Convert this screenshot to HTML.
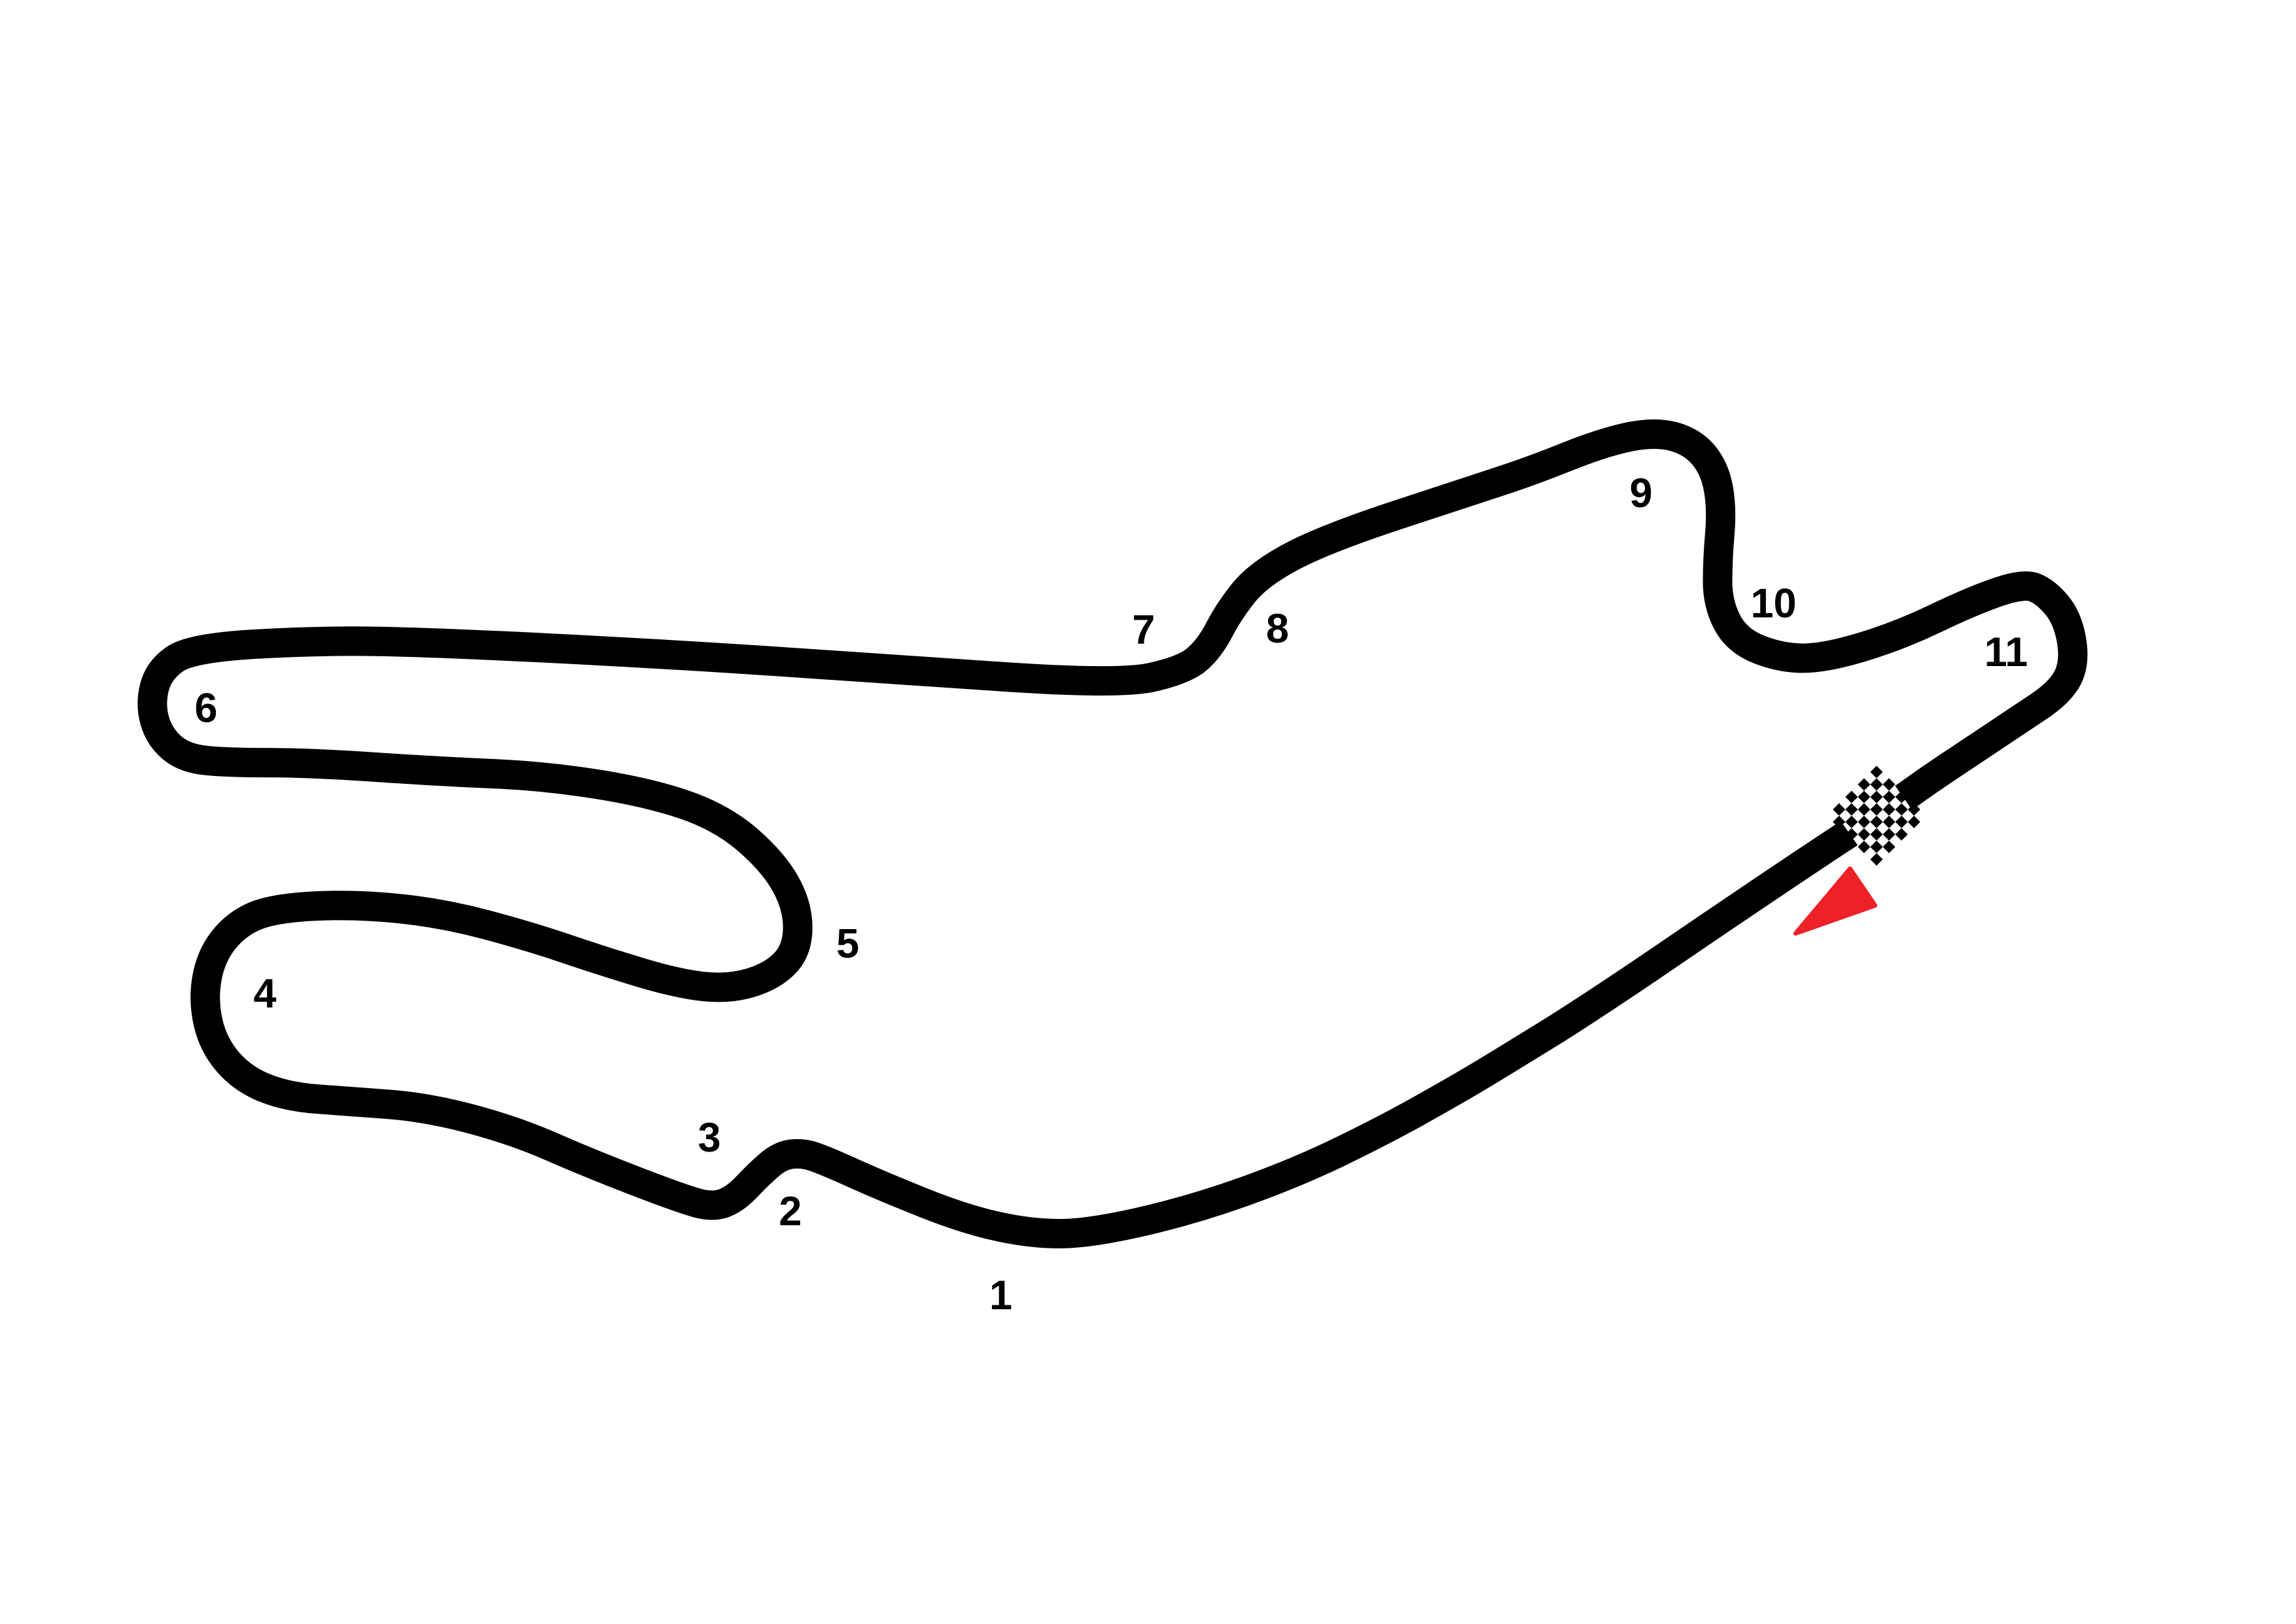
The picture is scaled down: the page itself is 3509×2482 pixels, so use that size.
<!DOCTYPE html>
<html><head><meta charset="utf-8"><style>
html,body{margin:0;padding:0;background:#fff;width:3509px;height:2482px;overflow:hidden}
svg{display:block}
text{font-family:"Liberation Sans",sans-serif;font-weight:bold;font-size:28px;fill:#000;text-anchor:middle;dominant-baseline:central}
</style></head><body>
<svg width="3509" height="2482" viewBox="0 0 1560 1103" xmlns="http://www.w3.org/2000/svg">
<rect width="1560" height="1103" fill="#fff"/>
<path fill="none" stroke="#000" stroke-width="20" stroke-linejoin="round" stroke-linecap="round"
d="M1273.5,555
Q1262,562 1226,586 Q1190,610 1135,647.5 Q1080,685 1050,703.5 Q1020,722 1005,731 Q990,740 965,754 Q940,768 910,782.5 Q880,797 845,809.5 Q810,822 775,830 Q740,838 720,838 Q700,838 677.5,833 Q655,828 627.5,817 Q600,806 580,797 Q560,788 552.5,785.5 Q545,783 537.5,784 Q530,785 522.5,791.5 Q515,798 507.5,806 Q500,814 492.5,817 Q485,820 475,817.5 Q465,815 432.5,802.5 Q400,790 375,779 Q350,768 320,760 Q290,752 262.5,750 Q235,748 215,746.5 Q195,745 180,739 Q165,733 155,721.5 Q145,710 141.5,695 Q138,680 140.5,665 Q143,650 151.5,639 Q160,628 172.5,622.5 Q185,617 212.5,615.5 Q240,614 270,617 Q300,620 330,628 Q360,636 385,644.5 Q410,653 435,660.5 Q460,668 477.5,670 Q495,672 510,667.5 Q525,663 533.5,654 Q542,645 542,630 Q542,615 533.5,600 Q525,585 507.5,570 Q490,555 465,546.5 Q440,538 405,532.5 Q370,527 335,525.5 Q300,524 255,521 Q210,518 182.5,518 Q155,518 140,516.5 Q125,515 116.5,507.5 Q108,500 105,489 Q102,478 105,466.5 Q108,455 119,447.5 Q130,440 172.5,437.5 Q215,435 252.5,435.5 Q290,436 370,440 Q450,444 525,449 Q600,454 680,459.5 Q760,465 782.5,460 Q805,455 813.5,447.5 Q822,440 828.5,427.5 Q835,415 845,402.5 Q855,390 877.5,378 Q900,366 950,349.5 Q1000,333 1020,326.5 Q1040,320 1065,310 Q1090,300 1107.5,296.5 Q1125,293 1137.5,296.5 Q1150,300 1157.5,309 Q1165,318 1167.5,331.5 Q1170,345 1168.5,362.5 Q1167,380 1167,395 Q1167,410 1173.5,422.5 Q1180,435 1195,441 Q1210,447 1225,447 Q1240,447 1265,439.5 Q1290,432 1315,420 Q1340,408 1357.5,402 Q1375,396 1382.5,399 Q1390,402 1397.5,411 Q1405,420 1407.5,435 Q1410,450 1405,460 Q1400,470 1385,480 Q1370,490 1355,500 Q1340,510 1325,520 Q1310,530 1297.5,539 Q1285,548 1273.5,555 Z"/>
<g transform="translate(1275,554) rotate(-35)">
<rect x="-22" y="-26" width="44" height="52" fill="#fff"/>
<g fill="#000" transform="rotate(80)">
<rect x="-24" y="-24" width="6" height="6"/><rect x="-12" y="-24" width="6" height="6"/><rect x="0" y="-24" width="6" height="6"/><rect x="12" y="-24" width="6" height="6"/>
<rect x="-18" y="-18" width="6" height="6"/><rect x="-6" y="-18" width="6" height="6"/><rect x="6" y="-18" width="6" height="6"/><rect x="18" y="-18" width="6" height="6"/>
<rect x="-24" y="-12" width="6" height="6"/><rect x="-12" y="-12" width="6" height="6"/><rect x="0" y="-12" width="6" height="6"/><rect x="12" y="-12" width="6" height="6"/>
<rect x="-18" y="-6" width="6" height="6"/><rect x="-6" y="-6" width="6" height="6"/><rect x="6" y="-6" width="6" height="6"/><rect x="18" y="-6" width="6" height="6"/>
<rect x="-24" y="0" width="6" height="6"/><rect x="-12" y="0" width="6" height="6"/><rect x="0" y="0" width="6" height="6"/><rect x="12" y="0" width="6" height="6"/>
<rect x="-18" y="6" width="6" height="6"/><rect x="-6" y="6" width="6" height="6"/><rect x="6" y="6" width="6" height="6"/><rect x="18" y="6" width="6" height="6"/>
<rect x="-24" y="12" width="6" height="6"/><rect x="-12" y="12" width="6" height="6"/><rect x="0" y="12" width="6" height="6"/><rect x="12" y="12" width="6" height="6"/>
<rect x="-18" y="18" width="6" height="6"/><rect x="-6" y="18" width="6" height="6"/><rect x="6" y="18" width="6" height="6"/><rect x="18" y="18" width="6" height="6"/>
</g></g>
<polygon points="1220,634 1257,590 1274,615" fill="#ee2028" stroke="#ee2028" stroke-width="3" stroke-linejoin="round"/>
<text x="680" y="880">1</text>
<text x="537" y="823">2</text>
<text x="482" y="773">3</text>
<text x="180" y="675">4</text>
<text x="576" y="641">5</text>
<text x="140" y="481">6</text>
<text x="777" y="428">7</text>
<text x="868" y="427">8</text>
<text x="1115" y="335">9</text>
<text x="1205" y="410">10</text>
<text x="1363" y="443">11</text>
</svg>
</body></html>
